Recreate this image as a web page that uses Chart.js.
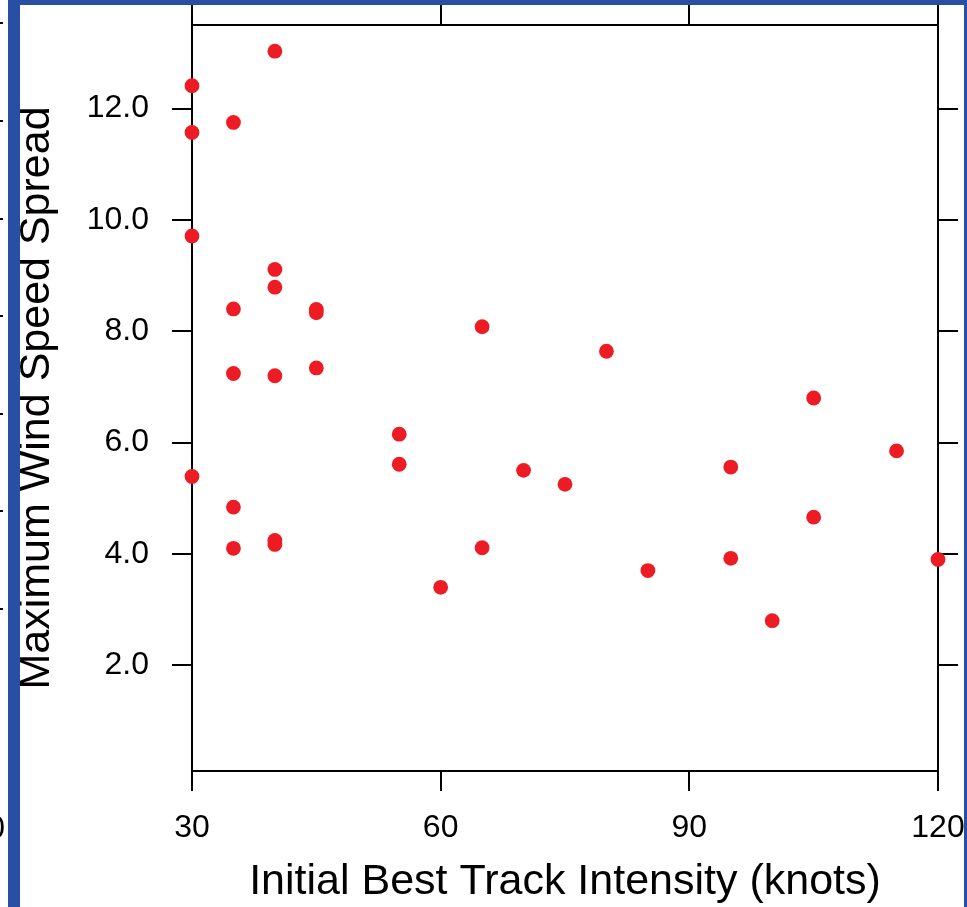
<!DOCTYPE html>
<html>
<head>
<meta charset="utf-8">
<title>Maximum Wind Speed Spread</title>
<script src="https://cdn.jsdelivr.net/npm/chart.js@4.4.1/dist/chart.umd.min.js"></script>
<style>
  html, body { margin: 0; padding: 0; background: #fff; }
  #contenedor { width: 967px; height: 907px; }
</style>
</head>
<body>
<div id="contenedor"><canvas id="grafico" width="967" height="907"></canvas></div>
<script>
// Intensidad inicial (nudos) de cada caso
const intensidad = [
    30, 30, 30, 30,
    35, 35, 35, 35, 35,
    40, 40, 40, 40, 40, 40,
    45, 45, 45,
    55, 55,
    60,
    65, 65,
    70, 75, 80, 85,
    95, 95,
    100,
    105, 105,
    115, 120
];

// Dispersión máxima de la velocidad del viento, mismo orden
const dispersion = [
    12.41, 11.57, 9.71, 5.39,
    11.75, 8.40, 7.24, 4.84, 4.10,
    13.03, 9.11, 8.79, 7.20, 4.24, 4.17,
    8.39, 8.33, 7.34,
    6.15, 5.61,
    3.40,
    8.08, 4.11,
    5.50, 5.25, 7.64, 3.70,
    5.56, 3.92,
    2.80,
    6.80, 4.66,
    5.85, 3.90
];

const ticksX = [30, 60, 90, 120];
const ticksY = [2, 4, 6, 8, 10, 12];

const tituloX = 'Initial Best Track Intensity (knots)';
const tituloY = 'Maximum Wind Speed Spread';

const familia = "'Liberation Sans', Arial, Helvetica, sans-serif";
const fuenteTicks = { family: familia, size: 32 };
const fuenteTitulo = { family: familia, size: 43, lineHeight: 1 };

// Rejilla: solo marcas hacia afuera, sin líneas en el área de datos
const rejilla = {
    drawOnChartArea: false,
    drawTicks: true,
    tickLength: 20,
    tickWidth: 2,
    tickColor: '#000',
    lineWidth: 2,
    color: '#000'
};
const borde = { display: true, width: 2, color: '#000' };

function fijarTicks(valores) {
    return (scale) => { scale.ticks = valores.map(v => ({ value: v })); };
}

// Tamaño fijo de cada eje y sin relleno extra por las etiquetas
function fijarTamano(ancho, alto) {
    return (s) => {
        if (ancho !== null) s.width = ancho;
        if (alto !== null) s.height = alto;
        s.paddingLeft = 0;
        s.paddingRight = 0;
        s.paddingTop = 0;
        s.paddingBottom = 0;
    };
}

// Marco azul y restos del panel vecino
const marco = {
    id: 'marco',
    beforeDraw(chart) {
        const ctx = chart.ctx;
        ctx.save();
        ctx.fillStyle = '#fff';
        ctx.fillRect(0, 0, chart.width, chart.height);
        ctx.restore();
    },
    afterDraw(chart) {
        const ctx = chart.ctx;
        ctx.save();
        ctx.fillStyle = '#2750a5';
        ctx.fillRect(8, 0, chart.width - 8, 5);
        ctx.fillRect(8, 0, 12, chart.height);
        ctx.fillRect(964, 0, 3, chart.height);

        ctx.strokeStyle = '#000';
        ctx.lineWidth = 2;
        [23, 121, 219, 316, 414, 511, 609].forEach(y => {
            ctx.beginPath();
            ctx.moveTo(0, y);
            ctx.lineTo(3, y);
            ctx.stroke();
        });
        ctx.fillStyle = '#000';
        ctx.font = `32px ${familia}`;
        ctx.textAlign = 'right';
        ctx.textBaseline = 'middle';
        ctx.fillText('0', 5, 829);
        ctx.restore();
    }
};

new Chart(document.getElementById('grafico'), {
    type: 'scatter',
    data: {
        datasets: [{
            data: intensidad.map((x, i) => ({ x: x, y: dispersion[i] })),
            backgroundColor: '#ed1c24',
            borderWidth: 0,
            pointRadius: 7.4,
            pointHoverRadius: 7.4,
            clip: false
        }]
    },
    options: {
        responsive: false,
        animation: false,
        devicePixelRatio: 1,
        layout: { padding: 0 },
        plugins: {
            legend: { display: false },
            tooltip: { enabled: false }
        },
        scales: {
            x: {
                type: 'linear',
                position: 'bottom',
                min: 30,
                max: 120,
                afterBuildTicks: fijarTicks(ticksX),
                afterFit: fijarTamano(null, 136),
                grid: rejilla,
                border: borde,
                ticks: {
                    color: '#000',
                    font: fuenteTicks,
                    padding: 18,
                    maxRotation: 0,
                    autoSkip: false
                },
                title: {
                    display: true,
                    text: tituloX,
                    color: '#000',
                    font: fuenteTitulo,
                    padding: { top: 0, bottom: 3 }
                }
            },
            x2: {
                type: 'linear',
                position: 'top',
                min: 30,
                max: 120,
                afterBuildTicks: fijarTicks(ticksX),
                afterFit: fijarTamano(null, 25),
                grid: rejilla,
                border: borde,
                ticks: { display: false }
            },
            y: {
                type: 'linear',
                position: 'left',
                min: 0.1,
                max: 13.5,
                afterBuildTicks: fijarTicks(ticksY),
                afterFit: fijarTamano(192, null),
                grid: rejilla,
                border: borde,
                ticks: {
                    color: '#000',
                    font: fuenteTicks,
                    padding: 23,
                    autoSkip: false,
                    callback: (v) => Number(v).toFixed(1)
                },
                title: {
                    display: true,
                    text: tituloY,
                    color: '#000',
                    font: fuenteTitulo,
                    padding: { top: 16, bottom: 0 }
                }
            },
            y2: {
                type: 'linear',
                position: 'right',
                min: 0.1,
                max: 13.5,
                afterBuildTicks: fijarTicks(ticksY),
                afterFit: fijarTamano(29, null),
                grid: rejilla,
                border: borde,
                ticks: { display: false }
            }
        }
    },
    plugins: [marco]
});
</script>
</body>
</html>
